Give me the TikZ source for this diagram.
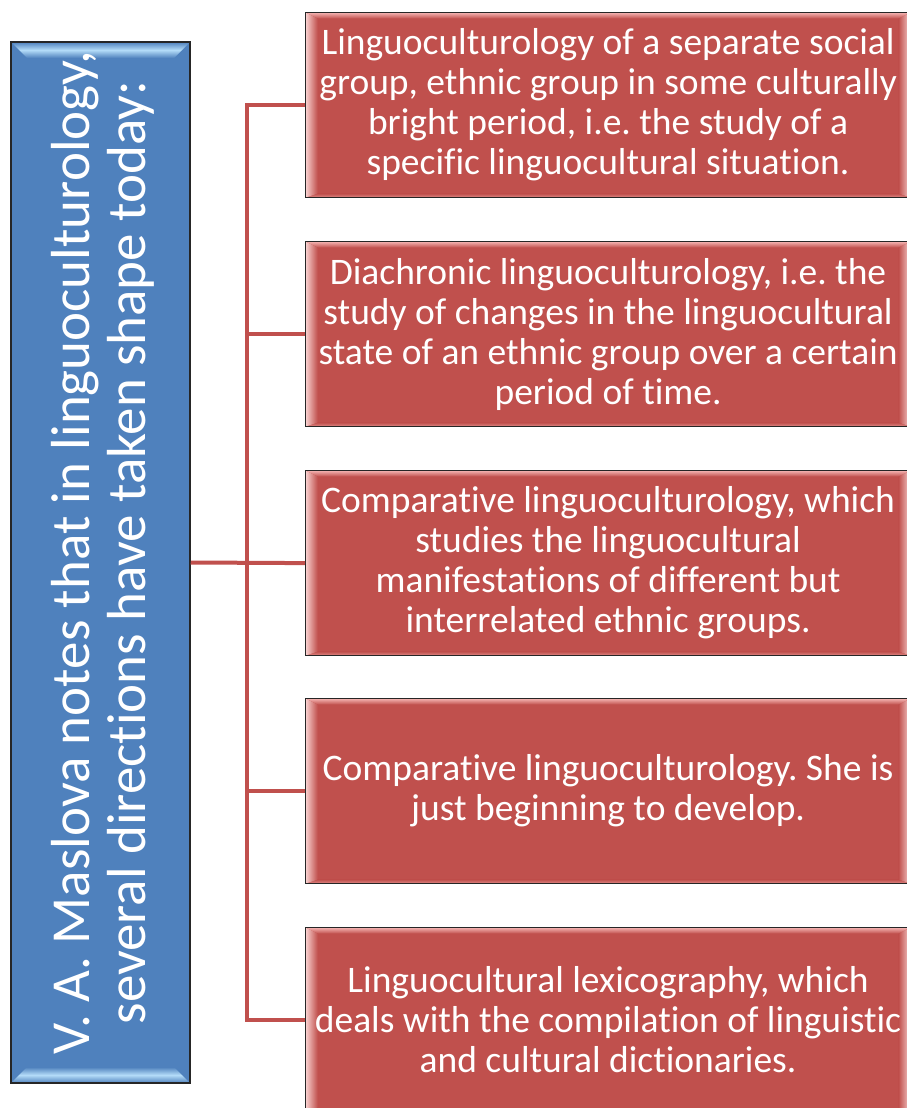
\documentclass[tikz,border=0pt]{standalone}
\usepackage{fontspec}
\setmainfont{Carlito}[Ligatures=NoCommon]
\usetikzlibrary{calc}
\definecolor{redbox}{HTML}{C0504D}
\definecolor{bluebox}{HTML}{4F81BD}
\definecolor{pinkbev}{HTML}{F4B3B1}
\definecolor{bluebev}{HTML}{B4DCF8}
\definecolor{linkred}{HTML}{C0504D}
\frenchspacing
\begin{document}
\begin{tikzpicture}[x=1pt,y=-1pt,
  dirbox/.style={draw=black!85, line width=1.2pt, fill=redbox, text=white,
    minimum width=605pt, minimum height=185pt, inner sep=0pt, align=center,
    font=\fontsize{37.5}{40}\selectfont, anchor=north west,
    path picture={
      \coordinate (NW) at (path picture bounding box.north west);
      \coordinate (NE) at (path picture bounding box.north east);
      \coordinate (SW) at (path picture bounding box.south west);
      \coordinate (SE) at (path picture bounding box.south east);
      \shade[top color=pinkbev, bottom color=redbox] (NW) -- (NE) -- ($(NE)+(-12,6)$) -- ($(NW)+(12,6)$) -- cycle;
      \shade[bottom color=pinkbev!60!redbox, top color=redbox] (SW) -- (SE) -- ($(SE)+(-12,-4)$) -- ($(SW)+(12,-4)$) -- cycle;
      \shade[left color=pinkbev!60!white, right color=redbox] (NW) -- ($(NW)+(12,6)$) -- ($(SW)+(12,-4)$) -- (SW) -- cycle;
      \shade[right color=pinkbev!60!white, left color=redbox] (NE) -- ($(NE)+(-12,6)$) -- ($(SE)+(-12,-4)$) -- (SE) -- cycle;
    }},
  mainbox/.style={draw=black!85, line width=1.5pt, fill=bluebox,
    minimum width=179pt, minimum height=1041pt, inner sep=0pt,
    path picture={
      \coordinate (NW) at (path picture bounding box.north west);
      \coordinate (NE) at (path picture bounding box.north east);
      \coordinate (SW) at (path picture bounding box.south west);
      \coordinate (SE) at (path picture bounding box.south east);
      \shade[top color=bluebox, bottom color=bluebox, middle color=bluebev] (NW) -- (NE) -- ($(NE)+(-16,16)$) -- ($(NW)+(16,16)$) -- cycle;
      \shade[top color=bluebox, bottom color=bluebox, middle color=bluebev] (SW) -- (SE) -- ($(SE)+(-16,-16)$) -- ($(SW)+(16,-16)$) -- cycle;
    }},
  maintext/.style={text=white, align=center, rotate=90, inner sep=0pt,
    font=\fontsize{55}{56}\selectfont},
  link/.style={draw=linkred, line width=4pt}
]
\useasboundingbox (0,0) rectangle (907,1108);
\clip (0,0) rectangle (907,1108);

\node[mainbox] (main) at (100.5,562.5) {};
\node[maintext] (mtext) at ($(main.center)+(2,-10)$) {V. A. Maslova notes that in linguoculturology,\\several directions have taken shape today:};

\coordinate (trunk) at (247,562.5);

\node[dirbox] (b1) at (305,12) {Linguoculturology of a separate social\\group, ethnic group in some culturally\\bright period, i.e. the study of a\\specific linguocultural situation.};
\node[dirbox] (b2) at (305,241) {Diachronic linguoculturology, i.e. the\\study of changes in the linguocultural\\state of an ethnic group over a certain\\period of time.};
\node[dirbox] (b3) at (305,470) {Comparative linguoculturology, which\\studies the linguocultural\\manifestations of different but\\interrelated ethnic groups.};
\node[dirbox] (b4) at (305,698) {Comparative linguoculturology. She is\\just beginning to develop.};
\node[dirbox] (b5) at (305,927) {Linguocultural lexicography, which\\deals with the compilation of linguistic\\and cultural dictionaries.};

\draw[link] (main.east) -- (b3.west);
\draw[link] (b1.west) -| (trunk |- b5.west) -- (b5.west);
\draw[link] (trunk |- b2.west) -- (b2.west);
\draw[link] (trunk |- b4.west) -- (b4.west);
\end{tikzpicture}
\end{document}
